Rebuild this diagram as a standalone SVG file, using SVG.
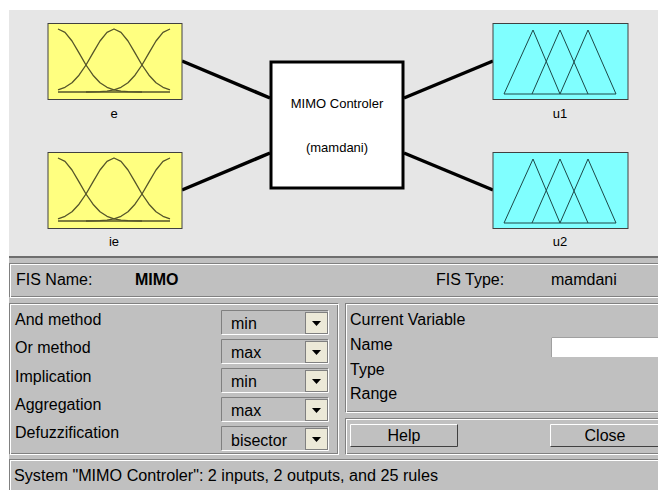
<svg xmlns="http://www.w3.org/2000/svg" width="658" height="490" viewBox="0 0 658 490">
<style>
text{font-family:"Liberation Sans",Arial,sans-serif;fill:#000}
.sm{font-size:13px}
.lb{font-size:16px}
.mf{fill:none;stroke:#55552a;stroke-width:1.3;stroke-linejoin:round}
.tri{fill:none;stroke:#1d4848;stroke-width:1}
.conn{stroke:#000;stroke-width:3.5;fill:none}
.etchD{fill:none;stroke:#808080;stroke-width:1}
.etchL{fill:none;stroke:#ffffff;stroke-width:1}
.arrbtn{fill:#ece9d8;stroke:#808080;stroke-width:1}
</style>
<defs>
<g id="gauss">
<polyline class="mf" points="58,29 65,32.3 72,41 79,52.9 86,65 93,75.2 100,82.7 107,87.3 114,89.9 121,91.1 128,91.7 142,92"/>
<polyline class="mf" points="58,89.9 65,87.3 72,82.7 79,75.2 86,65 93,52.9 100,41 107,32.3 114,29 121,32.3 128,41 135,52.9 142,65 149,75.2 156,82.7 163,87.3 170,89.9"/>
<polyline class="mf" points="170,29 163,32.3 156,41 149,52.9 142,65 135,75.2 128,82.7 121,87.3 114,89.9 107,91.1 100,91.7 86,92"/>
<line class="mf" x1="58" y1="92" x2="170" y2="92"/>
</g>
<g id="tris">
<polyline class="tri" points="504,94 533,30 560,94"/>
<polyline class="tri" points="532,94 560,30 588,94"/>
<polyline class="tri" points="560,94 588,30 616,94"/>
<line class="tri" x1="504" y1="94" x2="616" y2="94"/>
</g>
<path id="arr" d="M-4.5,-2 L4.5,-2 L0,3 Z" fill="#000"/>
</defs>
<rect x="0" y="0" width="658" height="490" fill="#ffffff"/>
<rect x="9" y="10" width="649" height="247" fill="#e6e6e6"/>
<rect x="9" y="256" width="649" height="2" fill="#6e6e6e"/>
<rect x="9" y="258" width="649" height="232" fill="#c0c0c0"/>

<g id="connectors">
<line class="conn" x1="182" y1="61" x2="270" y2="98"/>
<line class="conn" x1="182" y1="190" x2="270" y2="153"/>
<line class="conn" x1="404" y1="98" x2="493" y2="61"/>
<line class="conn" x1="404" y1="153" x2="493" y2="190"/>
</g>

<g id="node-e">
<rect x="48" y="23.5" width="134" height="76" fill="#ffff80" stroke="#404040" stroke-width="1"/>
<use href="#gauss"/>
<text class="sm" x="114" y="118" text-anchor="middle">e</text>
</g>
<g id="node-ie">
<rect x="48" y="152.5" width="134" height="76" fill="#ffff80" stroke="#404040" stroke-width="1"/>
<use href="#gauss" transform="translate(0,129)"/>
<text class="sm" x="114" y="246" text-anchor="middle">ie</text>
</g>
<g id="node-controller">
<rect x="271" y="62" width="132" height="126" fill="#ffffff" stroke="#000" stroke-width="3"/>
<text class="sm" x="337" y="108" text-anchor="middle">MIMO Controler</text>
<text class="sm" x="337" y="152" text-anchor="middle">(mamdani)</text>
</g>
<g id="node-u1">
<rect x="493" y="23.5" width="135" height="76" fill="#80ffff" stroke="#404040" stroke-width="1"/>
<use href="#tris"/>
<text class="sm" x="560" y="118" text-anchor="middle">u1</text>
</g>
<g id="node-u2">
<rect x="493" y="152.5" width="135" height="76" fill="#80ffff" stroke="#404040" stroke-width="1"/>
<use href="#tris" transform="translate(0,129)"/>
<text class="sm" x="560" y="246" text-anchor="middle">u2</text>
</g>

<g id="fis-panel">
<rect class="etchD" x="9.5" y="263.5" width="660" height="33"/>
<rect class="etchL" x="10.5" y="264.5" width="660" height="33"/>
<text class="lb" x="16" y="285">FIS Name:</text>
<text class="lb" x="135" y="285" font-weight="bold">MIMO</text>
<text class="lb" x="436" y="285">FIS Type:</text>
<text class="lb" x="551" y="285">mamdani</text>
</g>

<g id="methods-panel">
<rect class="etchD" x="9.5" y="303.5" width="328" height="150"/>
<rect class="etchL" x="10.5" y="304.5" width="328" height="150"/>
<text class="lb" x="15" y="325">And method</text>
<text class="lb" x="15" y="353">Or method</text>
<text class="lb" x="15" y="382">Implication</text>
<text class="lb" x="15" y="410">Aggregation</text>
<text class="lb" x="15" y="438">Defuzzification</text>
<g id="dd1">
<path d="M221.5,334.5 V310.5 H328.5" stroke="#808080" fill="none"/>
<path d="M221.5,334.5 H328.5 V310.5" stroke="#ffffff" fill="none"/>
<rect class="arrbtn" x="305.5" y="312.5" width="22" height="21"/>
<use href="#arr" x="316.5" y="323"/>
<text class="lb" x="231" y="329">min</text>
</g>
<g id="dd2">
<path d="M221.5,363.5 V339.5 H328.5" stroke="#808080" fill="none"/>
<path d="M221.5,363.5 H328.5 V339.5" stroke="#ffffff" fill="none"/>
<rect class="arrbtn" x="305.5" y="341.5" width="22" height="21"/>
<use href="#arr" x="316.5" y="352"/>
<text class="lb" x="231" y="358">max</text>
</g>
<g id="dd3">
<path d="M221.5,392.5 V368.5 H328.5" stroke="#808080" fill="none"/>
<path d="M221.5,392.5 H328.5 V368.5" stroke="#ffffff" fill="none"/>
<rect class="arrbtn" x="305.5" y="370.5" width="22" height="21"/>
<use href="#arr" x="316.5" y="381"/>
<text class="lb" x="231" y="387">min</text>
</g>
<g id="dd4">
<path d="M221.5,421.5 V397.5 H328.5" stroke="#808080" fill="none"/>
<path d="M221.5,421.5 H328.5 V397.5" stroke="#ffffff" fill="none"/>
<rect class="arrbtn" x="305.5" y="399.5" width="22" height="21"/>
<use href="#arr" x="316.5" y="410"/>
<text class="lb" x="231" y="416">max</text>
</g>
<g id="dd5">
<path d="M221.5,450.5 V426.5 H328.5" stroke="#808080" fill="none"/>
<path d="M221.5,450.5 H328.5 V426.5" stroke="#ffffff" fill="none"/>
<rect class="arrbtn" x="305.5" y="428.5" width="22" height="21"/>
<use href="#arr" x="316.5" y="439"/>
<text class="lb" x="231" y="446">bisector</text>
</g>
</g>

<g id="variable-panel">
<rect class="etchD" x="345.5" y="303.5" width="330" height="108"/>
<rect class="etchL" x="346.5" y="304.5" width="330" height="108"/>
<text class="lb" x="350" y="325">Current Variable</text>
<text class="lb" x="350" y="350">Name</text>
<text class="lb" x="350" y="375">Type</text>
<text class="lb" x="350" y="399">Range</text>
<rect x="551" y="337" width="120" height="20" fill="#ffffff"/>
<path d="M551.5,357 V337.5 H671" stroke="#a0a0a0" fill="none"/>
</g>

<g id="buttons-panel">
<rect class="etchD" x="345.5" y="418.5" width="330" height="35"/>
<rect class="etchL" x="346.5" y="419.5" width="330" height="35"/>
<g id="help">
<rect x="350" y="424" width="108" height="23" fill="#c0c0c0"/>
<path d="M350.5,446.5 V424.5 H457.5" stroke="#ffffff" fill="none"/>
<path d="M350.5,446.5 H457.5 V424.5" stroke="#404040" fill="none"/>
<text class="lb" x="404" y="441" text-anchor="middle">Help</text>
</g>
<g id="close">
<rect x="550" y="424" width="120" height="23" fill="#c0c0c0"/>
<path d="M550.5,446.5 V424.5 H670" stroke="#ffffff" fill="none"/>
<path d="M550.5,446.5 H670" stroke="#404040" fill="none"/>
<text class="lb" x="605" y="441" text-anchor="middle">Close</text>
</g>
</g>

<g id="status-panel">
<rect class="etchD" x="9.5" y="459.5" width="660" height="40"/>
<rect class="etchL" x="10.5" y="460.5" width="660" height="40"/>
<text class="lb" x="14" y="481" textLength="424" lengthAdjust="spacingAndGlyphs">System "MIMO Controler": 2 inputs, 2 outputs, and 25 rules</text>
</g>
</svg>
